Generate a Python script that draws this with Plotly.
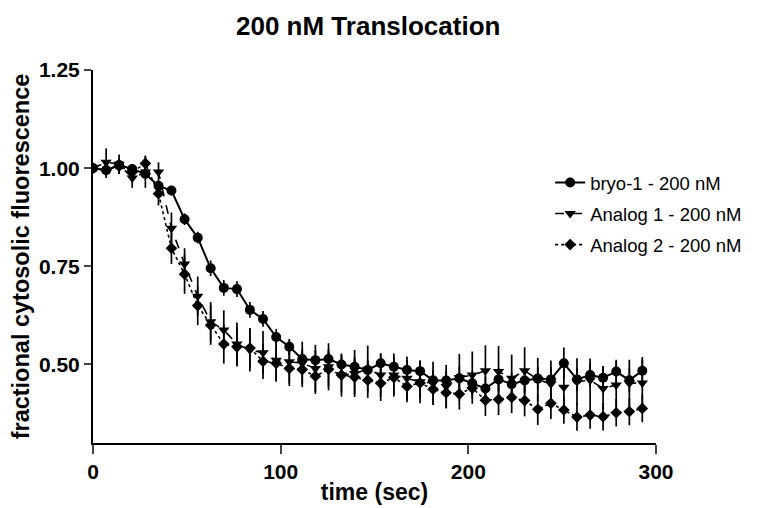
import plotly.graph_objects as go

time_sec = [0.0, 7.0, 13.9, 20.9, 27.9, 34.9, 41.8, 48.8, 55.8, 62.7, 69.7, 76.7, 83.6, 90.6,
            97.6, 104.6, 111.5, 118.5, 125.5, 132.4, 139.4, 146.4, 153.3, 160.3, 167.3, 174.3,
            181.2, 188.2, 195.2, 202.1, 209.1, 216.1, 223.1, 230.0, 237.0, 244.0, 250.9, 257.9,
            264.9, 271.8, 278.8, 285.8, 292.7]

bryo1 = [1.000, 0.995, 1.008, 0.998, 0.985, 0.955, 0.943, 0.870, 0.823, 0.745, 0.695, 0.692,
         0.639, 0.616, 0.570, 0.545, 0.514, 0.511, 0.514, 0.500, 0.494, 0.486, 0.503, 0.494,
         0.486, 0.483, 0.460, 0.459, 0.465, 0.452, 0.439, 0.462, 0.450, 0.459, 0.464, 0.462,
         0.503, 0.462, 0.473, 0.466, 0.482, 0.460, 0.484]
bryo1_err = [0.005, 0.010, 0.010, 0.010, 0.010, 0.012, 0.012, 0.015, 0.015, 0.020, 0.020, 0.020,
             0.020, 0.020, 0.020, 0.020, 0.025, 0.025, 0.025, 0.025, 0.025, 0.025, 0.025, 0.025,
             0.025, 0.025, 0.025, 0.025, 0.030, 0.030, 0.030, 0.030, 0.030, 0.030, 0.030, 0.030,
             0.040, 0.030, 0.030, 0.030, 0.030, 0.030, 0.035]

analog1 = [1.000, 1.015, 1.010, 0.975, 0.990, 0.990, 0.847, 0.756, 0.674, 0.609, 0.588, 0.552,
           0.537, 0.530, 0.511, 0.507, 0.503, 0.490, 0.494, 0.473, 0.477, 0.488, 0.473, 0.473,
           0.465, 0.456, 0.452, 0.444, 0.467, 0.473, 0.484, 0.482, 0.465, 0.484, 0.462, 0.450,
           0.442, 0.456, 0.460, 0.439, 0.448, 0.452, 0.453]
analog1_err = [0.005, 0.035, 0.025, 0.025, 0.040, 0.025, 0.040, 0.040, 0.050, 0.050, 0.050, 0.055,
               0.055, 0.055, 0.055, 0.055, 0.055, 0.060, 0.060, 0.055, 0.060, 0.060, 0.055, 0.055,
               0.055, 0.055, 0.055, 0.055, 0.060, 0.060, 0.065, 0.065, 0.060, 0.060, 0.055, 0.060,
               0.060, 0.060, 0.055, 0.055, 0.060, 0.060, 0.060]

analog2 = [1.000, 0.995, 1.005, 0.990, 1.012, 0.935, 0.796, 0.730, 0.650, 0.600, 0.552, 0.545,
           0.542, 0.508, 0.503, 0.490, 0.487, 0.470, 0.488, 0.473, 0.468, 0.460, 0.452, 0.467,
           0.444, 0.453, 0.437, 0.428, 0.425, 0.440, 0.409, 0.411, 0.416, 0.408, 0.386, 0.401,
           0.384, 0.366, 0.371, 0.367, 0.377, 0.380, 0.388]
analog2_err = [0.005, 0.020, 0.020, 0.020, 0.020, 0.030, 0.040, 0.050, 0.050, 0.050, 0.050, 0.050,
               0.050, 0.045, 0.045, 0.045, 0.045, 0.045, 0.045, 0.045, 0.045, 0.045, 0.045, 0.045,
               0.040, 0.040, 0.040, 0.040, 0.040, 0.040, 0.040, 0.040, 0.040, 0.040, 0.040, 0.040,
               0.035, 0.035, 0.035, 0.035, 0.035, 0.035, 0.035]

x_ticks = [0, 100, 200, 300]
y_ticks = [0.50, 0.75, 1.00, 1.25]
y_tick_labels = ["0.50", "0.75", "1.00", "1.25"]

FONT = "Liberation Sans, Arial, sans-serif"

series = [
    ("bryo-1 - 200 nM", bryo1, bryo1_err, "solid", "circle", 10),
    ("Analog 1 - 200 nM", analog1, analog1_err, "dash", "triangle-down", 10),
    ("Analog 2 - 200 nM", analog2, analog2_err, "dot", "diamond", 9),
]

fig = go.Figure()
for i, (name, vals, errs, dash, sym, size) in enumerate(series):
    fig.add_trace(go.Scatter(
        x=time_sec, y=vals, name=name, mode="lines+markers",
        legendgroup="g%d" % i,
        line=dict(color="black", width=2 if dash == "solid" else 1.6, dash=dash),
        marker=dict(symbol=sym, size=size, color="black"),
        error_y=dict(type="data", array=errs, visible=True, color="black",
                     thickness=1.7, width=0),
    ))

# the page body adds an 8 px margin, so the figure is sized/offset to compensate
fig.update_layout(
    width=768, height=500,
    paper_bgcolor="white", plot_bgcolor="white",
    margin=dict(l=85, r=120, t=62, b=65, autoexpand=False),
    font=dict(family=FONT, color="black"),
    title=dict(text="200 nM Translocation", x=0.469, xanchor="center",
               y=0.964, yanchor="middle",
               font=dict(size=26, weight="bold", family=FONT)),
    showlegend=True,
    legend=dict(x=0.812, y=0.748, xanchor="left", yanchor="top",
                font=dict(size=18.5, family=FONT), tracegroupgap=4,
                bgcolor="rgba(0,0,0,0)"),
)
fig.update_xaxes(
    range=[0, 300], tickvals=x_ticks, ticks="outside", ticklen=9, tickwidth=2,
    showline=True, linewidth=2, linecolor="black", showgrid=False, zeroline=False,
    automargin=False,
    tickfont=dict(size=21, weight="bold", family=FONT),
    title=dict(text="time (sec)", font=dict(size=23, weight="bold", family=FONT), standoff=2),
)
fig.update_yaxes(
    range=[0.30, 1.25], tickvals=y_ticks, ticktext=y_tick_labels, ticks="outside",
    ticklen=7, tickwidth=2, automargin=False,
    showline=True, linewidth=2, linecolor="black", showgrid=False, zeroline=False,
    tickfont=dict(size=21, weight="bold", family=FONT),
    title=dict(text="fractional cytosolic fluorescence",
               font=dict(size=23.5, weight="bold", family=FONT), standoff=8),
)

fig.write_html("out.html")
